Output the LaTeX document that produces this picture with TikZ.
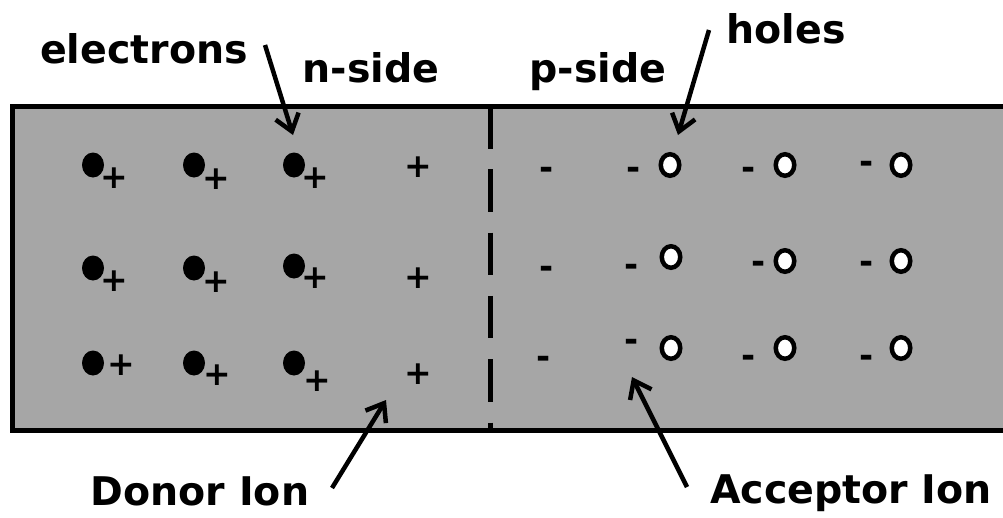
\documentclass[tikz,border=0pt]{standalone}
\usepackage{fontspec}
\setmainfont{DejaVu Sans}
\usetikzlibrary{arrows.meta,shapes.geometric}
\definecolor{bulkgray}{RGB}{166,166,166}
\tikzset{
  lbl/.style={font=\bfseries\fontsize{39.5}{42}\selectfont, inner sep=0pt, anchor=base},
  plusmark/.style={font=\bfseries\fontsize{33}{35}\selectfont, inner sep=0pt},
  minusmark/.style={font=\bfseries\fontsize{34}{36}\selectfont, inner sep=0pt, yshift=-4pt},
  electron/.style={ellipse, fill=black, inner sep=0pt, minimum width=22pt, minimum height=25pt},
  hole/.style={ellipse, draw=black, fill=white, line width=4.5pt, inner sep=0pt, minimum width=18.5pt, minimum height=21.5pt},
  border/.style={line width=5pt, line join=miter},
  junction/.style={line width=5pt, dash pattern=on 42.5pt off 20.8pt},
  pointer/.style={line width=4.5pt, -{Straight Barb[length=16pt,width=24pt]}}
}
\begin{document}
\begin{tikzpicture}[x=1pt,y=-1pt]
\useasboundingbox (0,0) rectangle (1003,517);
% crystal block
\fill[bulkgray] (12,106) rectangle (1010,430);
\draw[border] (1010,106) -- (12,106) -- (12,430) -- (1010,430);
\draw[junction] (490,106) -- (490,430);

% electrons (n-side)
\foreach \n/\x/\y in {e11/93/165, e12/194/165, e13/294/165,
                      e21/93/268, e22/194/268, e23/294/266,
                      e31/93/363, e32/194/363, e33/294/363}
  \node[electron] (\n) at (\x,\y) {};
% donor ions
\foreach \n/\x/\y in {d11/114/178, d12/216/179, d13/315/178, d14/418/167,
                      d21/114/281, d22/216/282, d23/315/278, d24/418/278,
                      d31/121/365, d32/217/375, d33/317/381, d34/418/374}
  \node[plusmark] (\n) at (\x,\y) {+};
% acceptor ions
\foreach \n/\x/\y in {a11/547/169, a12/634/169, a13/749/169, a14/867/163,
                      a21/547/268, a22/632/266, a23/759/263, a24/867/263,
                      a31/544/358, a32/632/341, a33/749/357, a34/867/357}
  \node[minusmark] (\n) at (\x,\y) {-};
% holes (p-side)
\foreach \n/\x/\y in {h11/670/165, h12/785/165, h13/901/165,
                      h21/671/257, h22/785/261, h23/901/261,
                      h31/671/348, h32/785/348, h33/901/348}
  \node[hole] (\n) at (\x,\y) {};

% labels
\node[lbl] (lelec) at (144,63) {electrons};
\node[lbl] (lnside) at (371,82) {n-side};
\node[lbl] (lpside) at (598,82) {p-side};
\node[lbl] (lholes) at (786,43) {holes};
\node[lbl] (ldonor) at (200,505) {Donor Ion};
\node[lbl] (lacc) at (851,503) {Acceptor Ion};

% arrow ends
\coordinate (eTail) at (265,45);  \coordinate (eTip) at (293,135);
\coordinate (hTail) at (709,30);  \coordinate (hTip) at (678,135);
\coordinate (dTail) at (332,488); \coordinate (dTip) at (386,400);
\coordinate (aTail) at (687,487); \coordinate (aTip) at (632,377);
\draw[pointer] (eTail) -- (eTip);
\draw[pointer] (hTail) -- (hTip);
\draw[pointer] (dTail) -- (dTip);
\draw[pointer] (aTail) -- (aTip);
\end{tikzpicture}
\end{document}
